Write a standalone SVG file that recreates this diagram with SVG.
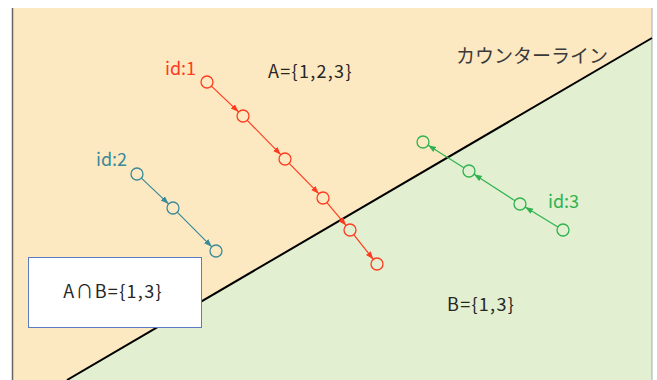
<svg xmlns="http://www.w3.org/2000/svg" width="657" height="380" viewBox="0 0 657 380">
<style>
  text { font-family: "Noto Sans CJK JP", "Noto Sans", sans-serif; }
  .lbl { font-size: 18px; fill: #262626; letter-spacing: 1.3px; }
  .pt { fill: none; stroke-width: 1.3; }
  .red { stroke: #FF3B1F; }
  .teal { stroke: #3A8A9A; }
  .grn { stroke: #2EB34F; }
  .conn line { stroke-width: 1.2; }
</style>
<defs>
  <marker id="ar" markerUnits="userSpaceOnUse" markerWidth="9" markerHeight="7" refX="8" refY="3" orient="auto"><path d="M0,0 L8,3 L0,6 z" fill="#FF3B1F"/></marker>
  <marker id="at" markerUnits="userSpaceOnUse" markerWidth="9" markerHeight="7" refX="8" refY="3" orient="auto"><path d="M0,0 L8,3 L0,6 z" fill="#3A8A9A"/></marker>
  <marker id="ag" markerUnits="userSpaceOnUse" markerWidth="9" markerHeight="7" refX="8" refY="3" orient="auto"><path d="M0,0 L8,3 L0,6 z" fill="#2EB34F"/></marker>
</defs>
<rect x="0" y="0" width="657" height="380" fill="#ffffff"/>
<g id="regions">
  <polygon points="12,8 652,8 652,38 67,380 12,380" fill="#FDE9C1"/>
  <polygon points="652,38 652,380 67,380" fill="#E2EFD0"/>
  <line x1="12.5" y1="8" x2="12.5" y2="380" stroke="#666666" stroke-width="1.5"/>
  <line x1="652" y1="8" x2="652" y2="380" stroke="#8a9aa8" stroke-width="0.8"/>
</g>
<g id="contour">
  <line x1="67" y1="380" x2="652" y2="38" stroke="#000000" stroke-width="2"/>
  <text x="456" y="63" font-size="19" fill="#3a3a3a">カウンターライン</text>
</g>
<g id="setA"><text class="lbl" x="268" y="78">A={1,2,3}</text></g>
<g id="setB"><text class="lbl" x="447" y="311">B={1,3}</text></g>
<g class="conn" id="connectors">
  <line class="red" x1="211.4" y1="86.1" x2="238.6" y2="111.9" marker-end="url(#ar)"/>
  <line class="red" x1="247.2" y1="120.3" x2="280.8" y2="154.7" marker-end="url(#ar)"/>
  <line class="red" x1="289.2" y1="163.3" x2="318.8" y2="193.7" marker-end="url(#ar)"/>
  <line class="red" x1="326.9" y1="202.6" x2="346.1" y2="225.4" marker-end="url(#ar)"/>
  <line class="red" x1="353.7" y1="234.7" x2="373.3" y2="259.3" marker-end="url(#ar)"/>
  <line class="teal" x1="141.4" y1="178.1" x2="168.6" y2="203.9" marker-end="url(#at)"/>
  <line class="teal" x1="177.2" y1="212.2" x2="211.8" y2="246.8" marker-end="url(#at)"/>
  <line class="grn" x1="557.9" y1="226.9" x2="525.1" y2="207.1" marker-end="url(#ag)"/>
  <line class="grn" x1="515" y1="200.7" x2="474" y2="174.3" marker-end="url(#ag)"/>
  <line class="grn" x1="463.9" y1="167.8" x2="428.1" y2="145.2" marker-end="url(#ag)"/>
</g>
<g id="id1">
  <text x="165" y="75" font-size="18" fill="#FF3B1F">id:1</text>
  <circle class="pt red" cx="207" cy="82" r="6"/>
  <circle class="pt red" cx="243" cy="116" r="6"/>
  <circle class="pt red" cx="285" cy="159" r="6"/>
  <circle class="pt red" cx="323" cy="198" r="6"/>
  <circle class="pt red" cx="350" cy="230" r="6"/>
  <circle class="pt red" cx="377" cy="264" r="6"/>
</g>
<g id="id2">
  <text x="96" y="166" font-size="18" fill="#3A8A9A">id:2</text>
  <circle class="pt teal" cx="137" cy="174" r="6"/>
  <circle class="pt teal" cx="173" cy="208" r="6"/>
  <circle class="pt teal" cx="216" cy="251" r="6"/>
</g>
<g id="id3">
  <text x="548" y="208" font-size="18" fill="#2EB34F">id:3</text>
  <circle class="pt grn" cx="423" cy="142" r="6"/>
  <circle class="pt grn" cx="469" cy="171" r="6"/>
  <circle class="pt grn" cx="520" cy="204" r="6"/>
  <circle class="pt grn" cx="563" cy="230" r="6"/>
</g>
<g id="intersection">
  <rect x="28.5" y="257.5" width="173" height="70" fill="#ffffff" stroke="#5B7CC0" stroke-width="1"/>
  <text class="lbl" x="113" y="298" text-anchor="middle">A∩B={1,3}</text>
</g>
</svg>
